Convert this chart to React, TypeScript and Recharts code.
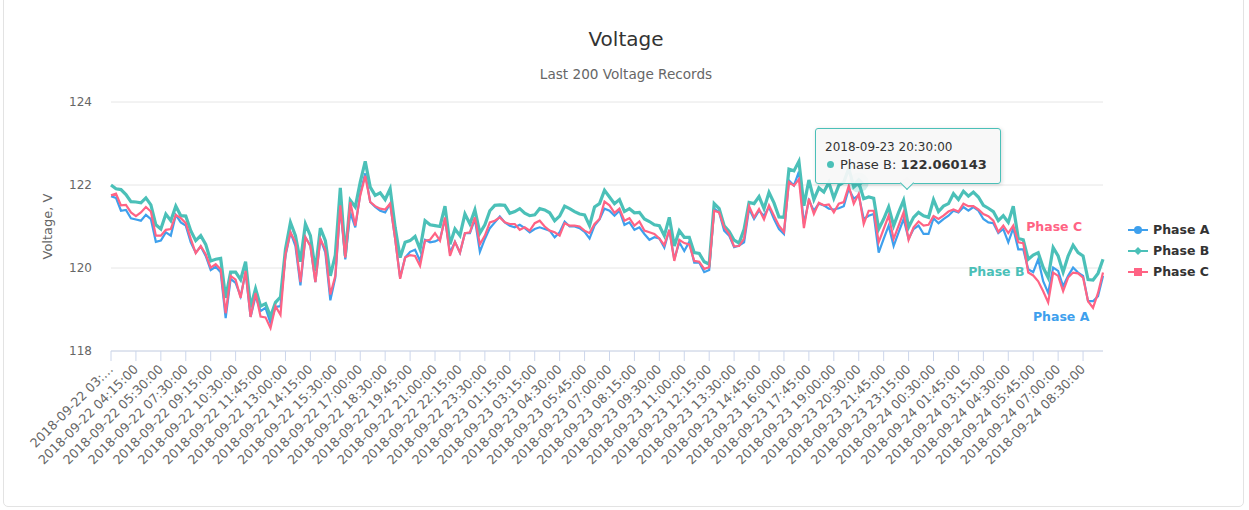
import React from 'react'
import { LineChart, Line, XAxis, YAxis, CartesianGrid, Tooltip, Legend, LabelList } from 'recharts'

const FONT = '"DejaVu Sans", Verdana, sans-serif'

const tickLabels = [
  '2018-09-22 03:…', '2018-09-22 04:15:00', '2018-09-22 05:30:00', '2018-09-22 07:30:00',
  '2018-09-22 09:15:00', '2018-09-22 10:30:00', '2018-09-22 11:45:00', '2018-09-22 13:00:00',
  '2018-09-22 14:15:00', '2018-09-22 15:30:00', '2018-09-22 17:00:00', '2018-09-22 18:30:00',
  '2018-09-22 19:45:00', '2018-09-22 21:00:00', '2018-09-22 22:15:00', '2018-09-22 23:30:00',
  '2018-09-23 01:15:00', '2018-09-23 03:15:00', '2018-09-23 04:30:00', '2018-09-23 05:45:00',
  '2018-09-23 07:00:00', '2018-09-23 08:15:00', '2018-09-23 09:30:00', '2018-09-23 11:00:00',
  '2018-09-23 12:15:00', '2018-09-23 13:30:00', '2018-09-23 14:45:00', '2018-09-23 16:00:00',
  '2018-09-23 17:45:00', '2018-09-23 19:00:00', '2018-09-23 20:30:00', '2018-09-23 21:45:00',
  '2018-09-23 23:15:00', '2018-09-24 00:30:00', '2018-09-24 01:45:00', '2018-09-24 03:15:00',
  '2018-09-24 04:30:00', '2018-09-24 05:45:00', '2018-09-24 07:00:00', '2018-09-24 08:30:00',
]

const phaseA = [
  121.73, 121.69, 121.38, 121.40, 121.20, 121.17, 121.14, 121.28, 121.18, 120.63,
  120.66, 120.86, 120.78, 121.28, 121.10, 121.02, 120.62, 120.37, 120.52, 120.29,
  119.95, 120.03, 119.90, 118.79, 119.74, 119.64, 119.32, 119.89, 118.82, 119.32,
  118.96, 119.04, 118.67, 119.06, 119.08, 120.29, 120.86, 120.53, 119.58, 120.74,
  120.53, 119.66, 120.70, 120.37, 119.22, 119.77, 121.47, 120.21, 121.34, 120.98,
  121.79, 122.28, 121.59, 121.47, 121.38, 121.34, 121.55, 120.70, 119.77, 120.25,
  120.39, 120.44, 120.17, 120.68, 120.62, 120.64, 120.70, 121.18, 120.37, 120.63,
  120.37, 120.84, 120.84, 121.18, 120.39, 120.70, 120.96, 121.10, 121.24, 121.10,
  121.02, 120.98, 121.04, 120.96, 120.86, 120.94, 120.98, 120.94, 120.90, 120.74,
  120.86, 121.12, 121.00, 121.00, 120.96, 120.87, 120.71, 121.02, 121.17, 121.43,
  121.38, 121.26, 121.38, 121.04, 121.10, 120.92, 120.98, 120.82, 120.68, 120.74,
  120.71, 120.49, 120.92, 120.21, 120.62, 120.41, 120.63, 120.13, 120.13, 119.90,
  119.95, 121.43, 121.34, 120.90, 120.78, 120.50, 120.54, 120.62, 121.43, 121.18,
  121.38, 121.26, 121.47, 121.18, 120.94, 120.82, 122.11, 121.99, 122.32, 121.06,
  121.63, 121.38, 121.55, 121.51, 121.43, 121.41, 121.44, 121.49, 121.91, 121.67,
  121.75, 121.18, 121.26, 121.30, 120.37, 120.70, 121.02, 120.53, 120.86, 121.18,
  120.70, 120.94, 121.02, 120.82, 120.82, 121.20, 121.08, 121.18, 121.26, 121.38,
  121.34, 121.47, 121.38, 121.47, 121.38, 121.18, 121.10, 121.08, 120.84, 120.94,
  120.62, 120.96, 120.45, 120.45, 119.97, 119.90, 120.21, 119.68, 119.40, 120.01,
  119.93, 119.56, 119.81, 120.01, 119.89, 119.81, 119.20, 119.20, 119.32, 119.81,
]

const phaseB = [
  122.00, 121.91, 121.89, 121.77, 121.60, 121.59, 121.57, 121.69, 121.52, 121.04,
  120.94, 121.30, 121.14, 121.49, 121.26, 121.25, 120.90, 120.66, 120.78, 120.57,
  120.17, 120.21, 120.23, 119.28, 119.90, 119.90, 119.72, 120.15, 119.05, 119.50,
  119.08, 119.14, 118.83, 119.17, 119.30, 120.45, 121.10, 120.78, 120.15, 121.06,
  120.78, 119.93, 120.96, 120.66, 119.81, 120.31, 121.93, 120.29, 121.63, 121.47,
  122.07, 122.57, 121.95, 121.75, 121.81, 121.65, 121.91, 120.98, 120.25, 120.62,
  120.66, 120.76, 120.45, 121.14, 121.04, 121.02, 121.00, 121.49, 120.57, 120.94,
  120.78, 121.30, 121.06, 121.40, 120.84, 121.04, 121.38, 121.51, 121.52, 121.51,
  121.32, 121.36, 121.43, 121.32, 121.26, 121.28, 121.43, 121.40, 121.33, 121.14,
  121.25, 121.49, 121.43, 121.36, 121.30, 121.28, 121.02, 121.47, 121.55, 121.87,
  121.71, 121.55, 121.65, 121.36, 121.43, 121.33, 121.34, 121.18, 121.12, 121.04,
  121.02, 120.78, 121.22, 120.53, 120.90, 120.74, 120.74, 120.37, 120.35, 120.15,
  120.09, 121.55, 121.43, 121.02, 120.88, 120.67, 120.60, 120.93, 121.58, 121.55,
  121.72, 121.43, 121.82, 121.57, 121.23, 121.22, 122.38, 122.34, 122.57, 121.50,
  122.12, 121.65, 121.93, 121.83, 122.06, 121.68, 121.99, 122.07, 122.40, 121.95,
  122.060143, 121.67, 121.71, 121.68, 120.94, 121.18, 121.47, 121.02, 121.34, 121.63,
  120.98, 121.22, 121.34, 121.26, 121.22, 121.65, 121.36, 121.49, 121.55, 121.79,
  121.65, 121.85, 121.73, 121.83, 121.71, 121.51, 121.44, 121.36, 121.14, 121.26,
  121.10, 121.49, 120.71, 120.68, 120.21, 120.31, 120.37, 120.01, 119.77, 120.49,
  120.29, 119.90, 120.29, 120.55, 120.37, 120.29, 119.72, 119.71, 119.87, 120.21,
]

const phaseC = [
  121.75, 121.79, 121.51, 121.52, 121.34, 121.25, 121.34, 121.47, 121.36, 120.78,
  120.78, 120.92, 120.94, 121.28, 121.20, 121.08, 120.70, 120.36, 120.53, 120.33,
  120.01, 120.09, 119.97, 118.91, 119.81, 119.72, 119.28, 119.93, 118.82, 119.40,
  118.83, 118.81, 118.55, 119.08, 118.87, 120.33, 120.86, 120.62, 119.66, 120.74,
  120.53, 119.66, 120.70, 120.44, 119.36, 119.81, 121.51, 120.25, 121.59, 121.02,
  121.75, 122.22, 121.59, 121.49, 121.43, 121.41, 121.55, 120.70, 119.74, 120.25,
  120.31, 120.29, 120.05, 120.66, 120.68, 120.84, 120.66, 121.22, 120.29, 120.63,
  120.37, 120.84, 120.86, 121.22, 120.57, 120.78, 121.10, 121.14, 121.22, 121.10,
  121.06, 121.06, 120.92, 120.98, 120.90, 121.08, 121.14, 121.00, 120.90, 120.86,
  120.78, 121.08, 121.02, 121.02, 121.00, 120.90, 120.84, 121.06, 121.18, 121.60,
  121.51, 121.33, 121.43, 121.14, 121.20, 121.02, 121.12, 120.90, 120.86, 120.82,
  120.71, 120.55, 120.92, 120.17, 120.68, 120.60, 120.57, 120.17, 120.15, 119.98,
  120.02, 121.38, 121.34, 120.98, 120.82, 120.52, 120.53, 120.71, 121.49, 121.22,
  121.42, 121.17, 121.51, 121.26, 121.02, 120.87, 122.07, 121.98, 122.14, 120.96,
  121.67, 121.30, 121.57, 121.51, 121.53, 121.34, 121.55, 121.59, 121.98, 121.55,
  121.79, 121.06, 121.38, 121.38, 120.62, 120.94, 121.26, 120.70, 121.02, 121.34,
  120.68, 120.98, 121.12, 121.02, 121.04, 121.25, 121.18, 121.26, 121.36, 121.41,
  121.36, 121.55, 121.49, 121.49, 121.41, 121.30, 121.25, 121.14, 120.87, 121.02,
  120.84, 121.02, 120.62, 120.60, 119.89, 119.82, 119.68, 119.44, 119.17, 119.89,
  119.81, 119.44, 119.77, 119.89, 119.87, 119.77, 119.20, 119.04, 119.40, 119.89,
]

const yTicks = [118, 120, 122, 124]
const TICK_STEP = 5
const HOVER_INDEX = 150

const series = [
  { key: 'a', name: 'Phase A', color: '#3ea0ed', marker: 'circle', width: 2.2, tag: { index: 191, dx: -2, dy: 30 } },
  { key: 'b', name: 'Phase B', color: '#4bc0b8', marker: 'diamond', width: 3.2, tag: { index: 178, dx: -2, dy: 51 } },
  { key: 'c', name: 'Phase C', color: '#ff6384', marker: 'square', width: 2.2, tag: { index: 189, dx: 1, dy: -46 } },
]

const rows = phaseA.map((a, i) => ({ idx: i, a, b: phaseB[i], c: phaseC[i] }))
const xTicks = tickLabels.map((_, k) => k * TICK_STEP)
const labelFor = (v: number) => tickLabels[Math.round(v / TICK_STEP)] ?? ''

function XTick(props: any) {
  const { x, y, payload } = props
  const ax = x + 3
  const ay = y + 9
  return (
    <text x={ax} y={ay} transform={`rotate(-45 ${ax} ${ay})`} textAnchor="end" fill="#666" fontSize={12.7} fontFamily={FONT}>
      {labelFor(payload.value)}
    </text>
  )
}

function Marker({ kind, cx, cy, r, color }: any) {
  if (kind === 'circle') return <circle cx={cx} cy={cy} r={r} fill={color} />
  if (kind === 'square') return <rect x={cx - r} y={cy - r} width={r * 2} height={r * 2} fill={color} />
  return <path d={`M${cx} ${cy - r} L${cx + r} ${cy} L${cx} ${cy + r} L${cx - r} ${cy} Z`} fill={color} />
}

function LegendBox() {
  return (
    <div style={{ fontFamily: FONT }}>
      {series.map((s) => (
        <div key={s.key} style={{ display: 'flex', alignItems: 'center', height: 21.2 }}>
          <svg width={20} height={12} style={{ display: 'block' }}>
            <line x1={0} y1={6} x2={20} y2={6} stroke={s.color} strokeWidth={2} />
            <Marker kind={s.marker} cx={10} cy={6} r={4} color={s.color} />
          </svg>
          <span style={{ marginLeft: 5, fontSize: 12.5, fontWeight: 'bold', color: '#333' }}>{s.name}</span>
        </div>
      ))}
    </div>
  )
}

function TipBox(props: any) {
  const hit = (props.payload || []).find((p: any) => p.dataKey === 'b')
  if (!hit) return null
  const s = series[1]
  return (
    <div style={{ position: 'relative', width: 184, height: 54, background: 'rgba(247,247,247,0.92)', border: `1px solid ${s.color}`, borderRadius: 3, boxShadow: '1px 1px 4px rgba(0,0,0,0.15)', fontFamily: FONT, color: '#333' }}>
      <div style={{ position: 'absolute', left: 9, top: 12, fontSize: 12, lineHeight: '12px', whiteSpace: 'nowrap' }}>{labelFor(HOVER_INDEX)}</div>
      <div style={{ position: 'absolute', left: 11, top: 32, width: 7, height: 7, borderRadius: '50%', background: s.color }} />
      <div style={{ position: 'absolute', left: 24, top: 29, fontSize: 13, lineHeight: '13px', whiteSpace: 'nowrap' }}>
        {s.name}: <b>{String(hit.value)}</b>
      </div>
      <div style={{ position: 'absolute', left: 86, top: 49, width: 9, height: 9, transform: 'rotate(45deg)', background: 'rgb(247,247,247)', borderRight: `1px solid ${s.color}`, borderBottom: `1px solid ${s.color}` }} />
    </div>
  )
}

// hovered point marker on Phase B: halo plus diamond
function hoverDot(p: any) {
  if (p.index !== HOVER_INDEX) return <g key={`d-${p.index}`} />
  const c = series[1].color
  return (
    <g key={`d-${p.index}`}>
      <circle cx={p.cx} cy={p.cy} r={10} fill={c} fillOpacity={0.25} />
      <Marker kind="diamond" cx={p.cx} cy={p.cy} r={5} color={c} />
    </g>
  )
}

function makeTag(s: any) {
  return (p: any) => {
    if (p.index !== s.tag.index) return null
    const px = p.x ?? p.viewBox?.x
    const py = p.y ?? p.viewBox?.y
    return (
      <text x={px + s.tag.dx} y={py + s.tag.dy} textAnchor="middle" dominantBaseline="central" fill={s.color} fontSize={12.5} fontWeight="bold" fontFamily={FONT}>
        {s.name}
      </text>
    )
  }
}

export default function App() {
  return (
    <div style={{ position: 'absolute', left: 0, top: 0, width: 1249, height: 510, background: '#fff', overflow: 'hidden' }}>
      <div style={{ position: 'absolute', left: 3, top: -10, width: 1241, height: 517, border: '1px solid #e3e3e3', borderRadius: 5, boxSizing: 'border-box' }} />
      <svg width={1249} height={90} style={{ position: 'absolute', left: 0, top: 0 }}>
        <text x={626} y={45.5} textAnchor="middle" fontSize={20} fill="#333" fontFamily={FONT}>Voltage</text>
        <text x={626} y={79} textAnchor="middle" fontSize={13.6} fill="#666" fontFamily={FONT}>Last 200 Voltage Records</text>
      </svg>
      <div style={{ position: 'absolute', left: 0, top: 0 }}>
        <LineChart width={1249} height={510} data={rows} margin={{ top: 102, right: 146, bottom: 39, left: 51 }} style={{ fontFamily: FONT }}>
          <CartesianGrid vertical={false} stroke="#e6e6e6" />
          <XAxis
            dataKey="idx"
            type="number"
            domain={[0, rows.length - 1]}
            ticks={xTicks}
            interval={0}
            height={120}
            tickSize={10}
            tickMargin={0}
            tick={<XTick />}
            tickLine={{ stroke: '#ccd6eb' }}
            axisLine={{ stroke: '#ccd6eb' }}
          />
          <YAxis
            domain={[118, 124]}
            ticks={yTicks}
            width={60}
            axisLine={false}
            tickLine={false}
            tickMargin={13}
            tick={{ fill: '#666', fontSize: 12, fontFamily: FONT }}
            label={{
              content: (p: any) => {
                const vb = p.viewBox || {}
                const lx = vb.x - 4
                const ly = vb.y + vb.height / 2
                return (
                  <text x={lx} y={ly} transform={`rotate(-90 ${lx} ${ly})`} textAnchor="middle" dominantBaseline="central" fill="#666" fontSize={13} fontFamily={FONT}>
                    Voltage, V
                  </text>
                )
              },
            }}
          />
          <Tooltip
            defaultIndex={HOVER_INDEX}
            active
            cursor={false}
            position={{ x: 815, y: 128 }}
            isAnimationActive={false}
            content={<TipBox />}
            wrapperStyle={{ outline: 'none' }}
          />
          <Legend layout="vertical" align="center" verticalAlign="middle" content={<LegendBox />} wrapperStyle={{ left: 1128, top: 219, width: 110, height: 64 }} />
          {series.map((s) => (
            <Line
              key={s.key}
              type="linear"
              dataKey={s.key}
              name={s.name}
              stroke={s.color}
              strokeWidth={s.width}
              dot={s.key === 'b' ? hoverDot : false}
              activeDot={false}
              isAnimationActive={false}
            >
              <LabelList dataKey={s.key} content={makeTag(s)} />
            </Line>
          ))}
        </LineChart>
      </div>
    </div>
  )
}
